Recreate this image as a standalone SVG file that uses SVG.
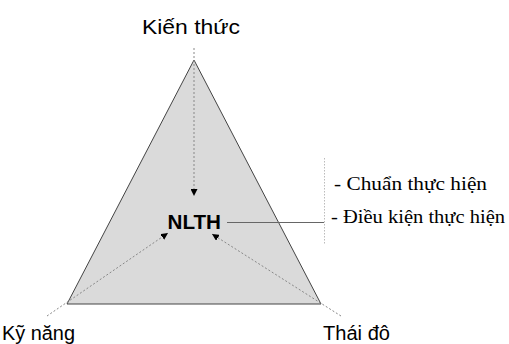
<svg xmlns="http://www.w3.org/2000/svg" width="509" height="344" viewBox="0 0 509 344">
<style>
.lbl{font-family:"Liberation Sans",Arial,sans-serif;font-size:20px;fill:#000}
.ser{font-family:"Liberation Serif","Times New Roman",serif;font-size:19.5px;fill:#000}
.dash{stroke:#888;stroke-width:1;stroke-dasharray:2,2;fill:none}
</style>
<defs>
<marker id="ah" viewBox="0 0 10 10" refX="10" refY="5" markerWidth="7" markerHeight="7" markerUnits="userSpaceOnUse" orient="auto">
<path d="M0,0 L10,5 L0,10 z" fill="#000"/>
</marker>
</defs>
<rect width="509" height="344" fill="#fff"/>
<g id="triangle">
<polygon points="194,60 67,304 321,304" fill="#dadada" stroke="#444" stroke-width="1"/>
</g>
<g id="connectors">
<line class="dash" x1="194" y1="48" x2="194" y2="196" marker-end="url(#ah)"/>
<line class="dash" x1="47" y1="316" x2="168" y2="233" marker-end="url(#ah)"/>
<line class="dash" x1="341" y1="316" x2="212" y2="234" marker-end="url(#ah)"/>
<line x1="227" y1="222.5" x2="324" y2="222.5" stroke="#666" stroke-width="1"/>
<line x1="324.5" y1="158" x2="324.5" y2="244" stroke="#bbb" stroke-width="1" stroke-dasharray="1.5,1.5"/>
</g>
<g id="kien-thuc"><text class="lbl" x="142" y="34" textLength="98" lengthAdjust="spacingAndGlyphs">Kiến thức</text></g>
<g id="ky-nang"><text class="lbl" x="2" y="340" textLength="73" lengthAdjust="spacingAndGlyphs">Kỹ năng</text></g>
<g id="thai-do"><text class="lbl" x="323" y="340" textLength="67" lengthAdjust="spacingAndGlyphs">Thái đô</text></g>
<g id="nlth"><text x="167.5" y="229" font-family="'Liberation Sans',Arial,sans-serif" font-weight="bold" font-size="21" textLength="53.5" lengthAdjust="spacingAndGlyphs">NLTH</text></g>
<g id="notes">
<text class="ser" x="334" y="190" textLength="153" lengthAdjust="spacingAndGlyphs">- Chuẩn thực hiện</text>
<text class="ser" x="331" y="223" textLength="174" lengthAdjust="spacingAndGlyphs">- Điều kiện thực hiện</text>
</g>
</svg>
